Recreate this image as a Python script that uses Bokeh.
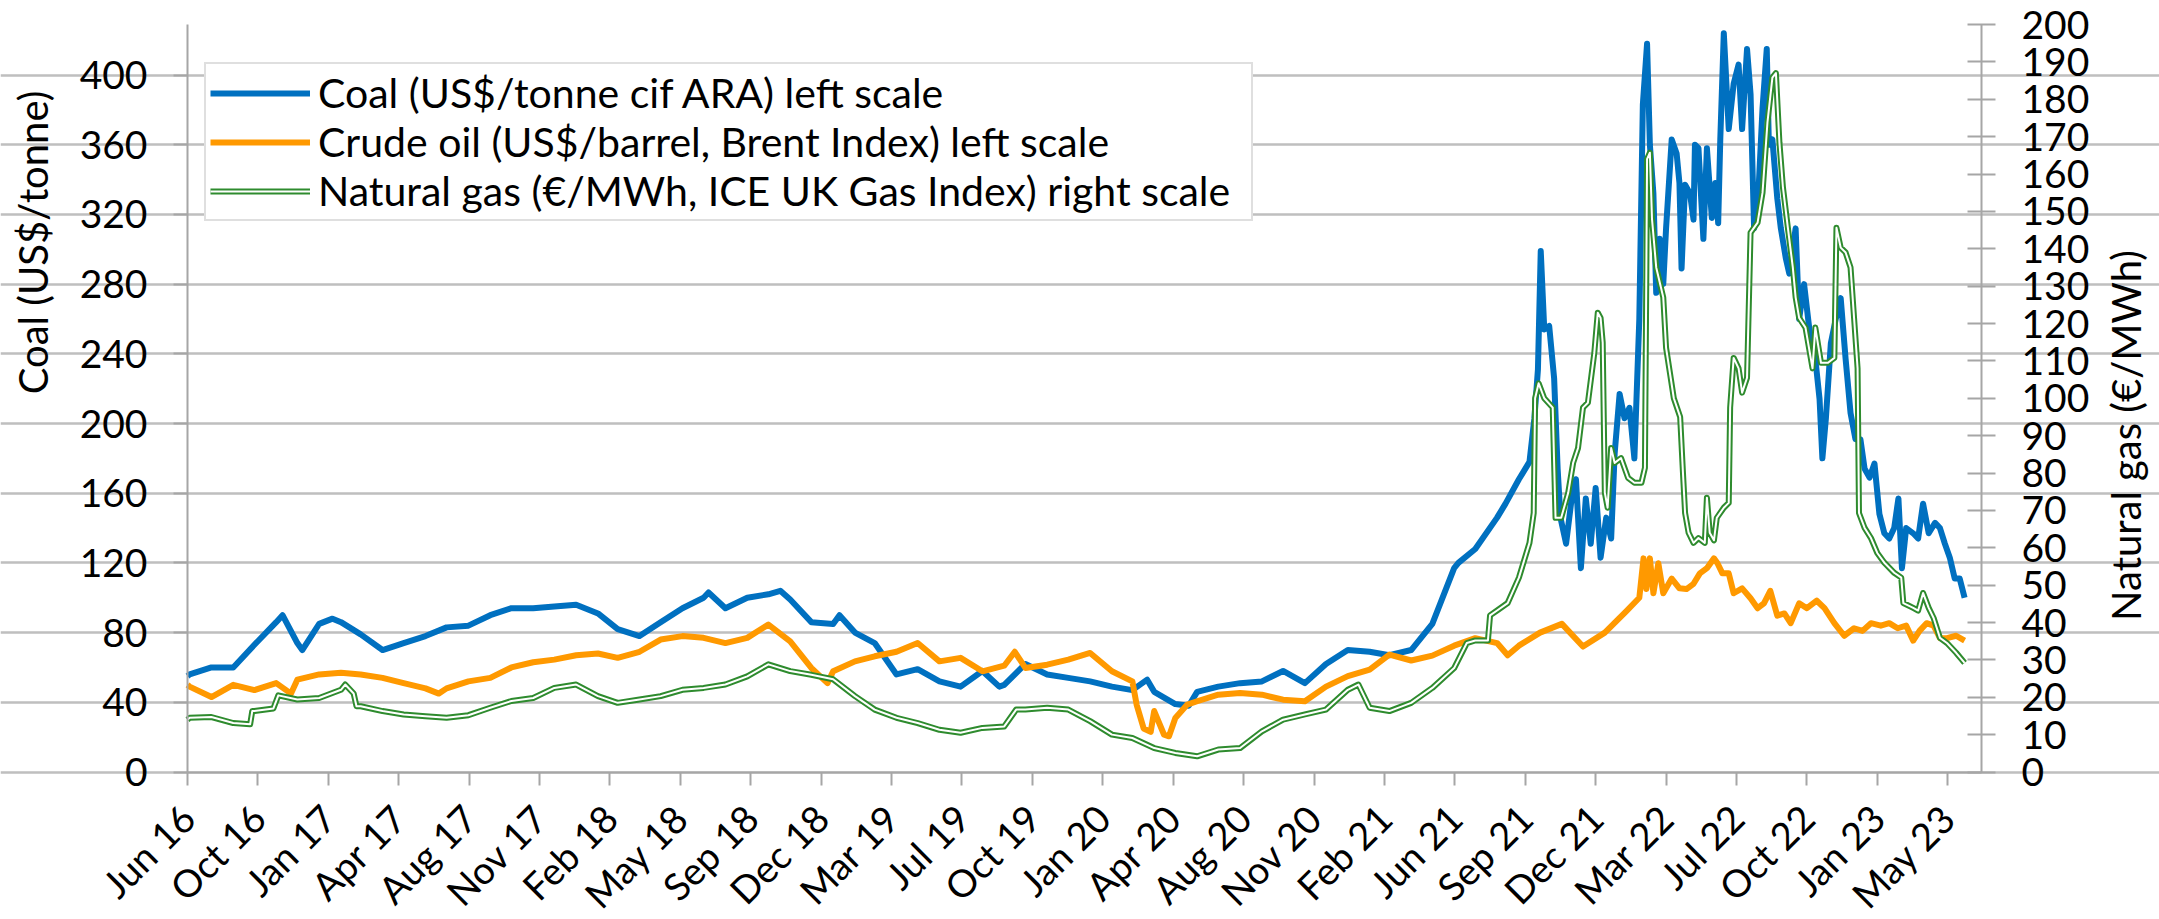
from math import pi
import pandas as pd
from bokeh.plotting import figure
from bokeh.models import (Range1d, LinearAxis, FixedTicker, Legend, LegendItem, Label)
from bokeh.embed import file_html
from bokeh.resources import INLINE

# ---------------- data ----------------
coal_dates = [
    "2016-06-28", "2016-07-01", "2016-08-01", "2016-09-01", "2016-10-01", "2016-11-01", "2016-11-10",
    "2016-12-01", "2016-12-08", "2017-01-01", "2017-01-20", "2017-02-01", "2017-03-01", "2017-04-01",
    "2017-05-01", "2017-06-01", "2017-07-01", "2017-08-01", "2017-09-01", "2017-10-01", "2017-11-01",
    "2017-12-01", "2018-01-01", "2018-02-01", "2018-03-01", "2018-04-01", "2018-05-01", "2018-06-01",
    "2018-07-01", "2018-07-08", "2018-08-01", "2018-09-01", "2018-10-01", "2018-10-18", "2018-11-01",
    "2018-12-01", "2019-01-01", "2019-01-10", "2019-02-01", "2019-03-01", "2019-04-01", "2019-05-01",
    "2019-06-01", "2019-07-01", "2019-08-01", "2019-08-25", "2019-09-01", "2019-10-01", "2019-11-01",
    "2019-12-01", "2020-01-01", "2020-02-01", "2020-03-01", "2020-03-22", "2020-04-01", "2020-05-01",
    "2020-05-20", "2020-06-01", "2020-07-01", "2020-08-01", "2020-09-01", "2020-10-01", "2020-11-01",
    "2020-12-01", "2021-01-01", "2021-02-01", "2021-03-01", "2021-04-01", "2021-05-01", "2021-06-01",
    "2021-06-07", "2021-07-01", "2021-08-01", "2021-08-13", "2021-09-01", "2021-09-16", "2021-09-23",
    "2021-09-28", "2021-10-02", "2021-10-07", "2021-10-14", "2021-10-21", "2021-10-26", "2021-10-30",
    "2021-11-07", "2021-11-14", "2021-11-21", "2021-11-28", "2021-12-05", "2021-12-12", "2021-12-19",
    "2021-12-26", "2022-01-03", "2022-01-10", "2022-01-15", "2022-01-22", "2022-01-29", "2022-02-05",
    "2022-02-12", "2022-02-19", "2022-02-24", "2022-03-02", "2022-03-06", "2022-03-11", "2022-03-15",
    "2022-03-20", "2022-03-25", "2022-03-29", "2022-04-06", "2022-04-13", "2022-04-17", "2022-04-20",
    "2022-04-25", "2022-05-02", "2022-05-07", "2022-05-09", "2022-05-14", "2022-05-21", "2022-05-26",
    "2022-06-02", "2022-06-07", "2022-06-11", "2022-06-14", "2022-06-19", "2022-06-26", "2022-07-03",
    "2022-07-10", "2022-07-15", "2022-07-22", "2022-07-27", "2022-08-01", "2022-08-06", "2022-08-13",
    "2022-08-19", "2022-08-22", "2022-08-27", "2022-09-03", "2022-09-08", "2022-09-15", "2022-09-20",
    "2022-09-29", "2022-10-04", "2022-10-11", "2022-10-20", "2022-10-27", "2022-11-02", "2022-11-06",
    "2022-11-11", "2022-11-18", "2022-11-25", "2022-12-02", "2022-12-09", "2022-12-16", "2022-12-23",
    "2022-12-30", "2023-01-05", "2023-01-12", "2023-01-19", "2023-01-26", "2023-02-02", "2023-02-09",
    "2023-02-16", "2023-02-22", "2023-02-27", "2023-03-05", "2023-03-15", "2023-03-22", "2023-03-29",
    "2023-04-06", "2023-04-15", "2023-04-22", "2023-04-29", "2023-05-06", "2023-05-13", "2023-05-20",
    "2023-05-27",
]
coal_values = [
    55, 56, 60, 60, 73, 86, 90,
    74, 70, 85, 88, 86, 79, 70,
    74, 78, 83, 84, 90, 94, 94,
    95, 96, 91, 82, 78, 86, 94,
    100, 103, 94, 100, 102, 104, 99,
    86, 85, 90, 80, 74, 56, 59,
    52, 49, 58, 49, 50, 62, 56,
    54, 52, 49, 47, 53, 46, 39,
    38, 46, 49, 51, 52, 58, 51,
    62, 70, 69, 67, 70, 85, 117,
    120, 128, 146, 154, 168, 178, 203,
    231, 299, 254, 256, 226, 174, 146,
    131, 154, 168, 117, 157, 131, 163,
    123, 146, 134, 183, 217, 203, 209,
    180, 260, 383, 418, 360, 332, 275,
    306, 280, 312, 363, 355, 338, 289,
    337, 332, 317, 360, 358, 306, 358,
    318, 338, 315, 363, 424, 369, 395,
    406, 369, 415, 389, 312, 323, 381,
    415, 360, 363, 329, 312, 295, 286,
    312, 260, 280, 249, 237, 214, 180,
    203, 246, 260, 272, 237, 206, 191,
    191, 174, 169, 177, 148, 137, 134,
    140, 157, 117, 140, 137, 134, 154,
    137, 143, 140, 131, 123, 111, 111,
    100,
]

oil_dates = [
    "2016-06-28", "2016-07-01", "2016-08-01", "2016-09-01", "2016-10-01", "2016-11-01", "2016-11-22",
    "2016-12-01", "2017-01-01", "2017-02-01", "2017-03-01", "2017-04-01", "2017-05-01", "2017-06-01",
    "2017-06-20", "2017-07-01", "2017-08-01", "2017-09-01", "2017-10-01", "2017-11-01", "2017-12-01",
    "2018-01-01", "2018-02-01", "2018-03-01", "2018-04-01", "2018-05-01", "2018-06-01", "2018-07-01",
    "2018-08-01", "2018-09-01", "2018-10-01", "2018-11-01", "2018-12-01", "2018-12-24", "2019-01-01",
    "2019-02-01", "2019-03-01", "2019-04-01", "2019-05-01", "2019-06-01", "2019-07-01", "2019-08-01",
    "2019-09-01", "2019-09-16", "2019-10-01", "2019-11-01", "2019-12-01", "2020-01-01", "2020-02-01",
    "2020-03-01", "2020-03-07", "2020-03-17", "2020-03-27", "2020-04-01", "2020-04-05", "2020-04-15",
    "2020-04-22", "2020-05-01", "2020-05-18", "2020-06-01", "2020-07-01", "2020-08-01", "2020-09-01",
    "2020-10-01", "2020-11-01", "2020-12-01", "2021-01-01", "2021-02-01", "2021-03-01", "2021-04-01",
    "2021-05-01", "2021-06-01", "2021-07-01", "2021-08-01", "2021-08-16", "2021-09-01", "2021-10-01",
    "2021-11-01", "2021-12-01", "2022-01-01", "2022-02-01", "2022-02-19", "2022-02-25", "2022-03-01",
    "2022-03-06", "2022-03-11", "2022-03-18", "2022-03-25", "2022-04-06", "2022-04-17", "2022-04-27",
    "2022-05-07", "2022-05-16", "2022-05-26", "2022-06-05", "2022-06-10", "2022-06-17", "2022-06-26",
    "2022-07-03", "2022-07-15", "2022-07-27", "2022-08-06", "2022-08-15", "2022-08-24", "2022-09-03",
    "2022-09-13", "2022-09-22", "2022-10-04", "2022-10-15", "2022-10-29", "2022-11-09", "2022-11-23",
    "2022-12-07", "2022-12-21", "2023-01-02", "2023-01-14", "2023-01-28", "2023-02-09", "2023-02-21",
    "2023-03-05", "2023-03-15", "2023-03-24", "2023-04-03", "2023-04-13", "2023-04-22", "2023-05-02",
    "2023-05-15", "2023-05-27",
]
oil_values = [
    50, 49, 43, 50, 47, 51, 45,
    53, 56, 57, 56, 54, 51, 48,
    45, 48, 52, 54, 60, 63, 64.5,
    67, 68, 65.5, 69, 76, 78, 77,
    74, 77, 84.6, 75, 59.7, 51, 57.8,
    63.5, 66.4, 69, 74, 63.5, 65.5, 57.8,
    61, 69, 59.7, 61.6, 64.5, 68.3, 57.8,
    52, 38.7, 25, 23, 35, 31, 21.4,
    20.5, 31, 38.7, 40.6, 44.4, 45.4, 44.4,
    41.5, 40.6, 49, 55, 58.8, 67.4, 64,
    66.8, 72.5, 76.8, 74, 67, 72.5, 80,
    85, 72, 80, 92.5, 100, 122.6, 105,
    122.6, 102.6, 119.8, 102.6, 111, 105.4, 105,
    108, 114, 117, 122.6, 119.8, 114, 114,
    102.6, 105.4, 99.7, 94, 96.8, 104, 89.7,
    91, 85.4, 96.8, 94, 98.3, 94, 85.4,
    78.2, 82.5, 81, 85.4, 84, 85.4, 82.5,
    84, 75.4, 81, 85.4, 84, 76.8, 76.8,
    78.2, 75.4,
]

gas_dates = [
    "2016-06-28", "2016-07-01", "2016-08-01", "2016-09-01", "2016-09-25", "2016-09-28", "2016-10-01",
    "2016-10-28", "2016-11-04", "2016-12-01", "2017-01-01", "2017-02-01", "2017-02-07", "2017-02-19",
    "2017-02-23", "2017-03-01", "2017-04-01", "2017-05-01", "2017-06-01", "2017-07-01", "2017-08-01",
    "2017-09-01", "2017-10-01", "2017-11-01", "2017-12-01", "2018-01-01", "2018-02-01", "2018-03-01",
    "2018-04-01", "2018-05-01", "2018-06-01", "2018-07-01", "2018-08-01", "2018-09-01", "2018-10-01",
    "2018-11-01", "2018-12-01", "2019-01-01", "2019-02-01", "2019-03-01", "2019-04-01", "2019-05-01",
    "2019-06-01", "2019-07-01", "2019-08-01", "2019-09-01", "2019-09-18", "2019-10-01", "2019-11-01",
    "2019-12-01", "2020-01-01", "2020-02-01", "2020-03-01", "2020-04-01", "2020-05-01", "2020-06-01",
    "2020-07-01", "2020-08-01", "2020-09-01", "2020-10-01", "2020-11-01", "2020-12-01", "2021-01-01",
    "2021-01-16", "2021-02-01", "2021-03-01", "2021-04-01", "2021-05-01", "2021-06-01", "2021-06-19",
    "2021-07-01", "2021-07-19", "2021-07-22", "2021-08-01", "2021-08-16", "2021-09-01", "2021-09-16",
    "2021-09-22", "2021-09-24", "2021-09-29", "2021-10-07", "2021-10-19", "2021-10-23", "2021-10-31",
    "2021-11-10", "2021-11-17", "2021-11-24", "2021-12-01", "2021-12-08", "2021-12-17", "2021-12-22",
    "2021-12-26", "2021-12-29", "2022-01-01", "2022-01-05", "2022-01-10", "2022-01-15", "2022-01-24",
    "2022-02-03", "2022-02-12", "2022-02-22", "2022-02-27", "2022-03-01", "2022-03-02", "2022-03-06",
    "2022-03-09", "2022-03-15", "2022-03-25", "2022-03-29", "2022-04-09", "2022-04-18", "2022-04-22",
    "2022-04-25", "2022-04-30", "2022-05-07", "2022-05-14", "2022-05-23", "2022-05-26", "2022-05-30",
    "2022-06-05", "2022-06-09", "2022-06-19", "2022-06-26", "2022-06-28", "2022-07-03", "2022-07-10",
    "2022-07-15", "2022-07-22", "2022-07-27", "2022-08-06", "2022-08-13", "2022-08-20", "2022-08-27",
    "2022-09-01", "2022-09-06", "2022-09-11", "2022-09-18", "2022-09-25", "2022-09-29", "2022-10-04",
    "2022-10-13", "2022-10-23", "2022-10-27", "2022-11-04", "2022-11-14", "2022-11-23", "2022-11-26",
    "2022-12-02", "2022-12-09", "2022-12-16", "2022-12-21", "2022-12-26", "2022-12-28", "2023-01-05",
    "2023-01-14", "2023-01-23", "2023-02-02", "2023-02-16", "2023-02-26", "2023-03-01", "2023-03-15",
    "2023-03-22", "2023-03-29", "2023-04-06", "2023-04-13", "2023-04-22", "2023-05-02", "2023-05-15",
    "2023-05-27",
]
gas_values = [
    14, 14.5, 14.7, 13.1, 12.8, 16.3, 16.3,
    17, 20.5, 19.4, 19.8, 22, 23.4, 21,
    17.6, 17.6, 16.3, 15.4, 14.9, 14.5, 15.2,
    17.2, 19, 19.8, 22.5, 23.4, 20.3, 18.5,
    19.4, 20.3, 22, 22.5, 23.4, 25.6, 28.8,
    27, 26, 24.8, 20.3, 16.7, 14.5, 13.1,
    11.3, 10.5, 11.8, 12.2, 16.7, 16.7, 17.2,
    16.7, 13.6, 10, 9.1, 6.4, 5.1, 4.2,
    6, 6.4, 10.9, 14, 15.4, 16.7, 22,
    23.4, 17.2, 16.3, 18.5, 22.5, 27.8, 34.5,
    35.2, 35.2, 41.9, 43.2, 45.2, 52, 61.3,
    69.3, 100, 104, 100, 97.5, 68, 68,
    74.7, 82.7, 86.7, 97.5, 98.8, 112, 122.9,
    121.5, 114.9, 74.7, 70.7, 86.7, 82.7, 84,
    78.7, 77.4, 77.4, 81.4, 135, 164, 165.7,
    148, 135, 127, 113.5, 100, 95, 80,
    69.3, 64, 61.3, 62.6, 61.3, 73.4, 64,
    62, 68, 70.7, 72, 97.5, 110.8, 108,
    101.5, 105.5, 144.3, 147, 155, 173.8, 185.8,
    187, 168.4, 156.4, 145.6, 135, 127, 121.5,
    118.9, 108, 118.9, 109.5, 109.5, 110.8, 145.6,
    140.3, 139, 135, 121.5, 108, 69.3, 65.3,
    62.6, 58.6, 56, 53.3, 52, 45.2, 43.9,
    43.2, 47.9, 43.9, 41.2, 35.9, 34.5, 31.9,
    29.2,
]

tick_dates = [
    "2016-06-28", "2016-10-06", "2017-01-14", "2017-04-24", "2017-08-02", "2017-11-10", "2018-02-18",
    "2018-05-29", "2018-09-06", "2018-12-15", "2019-03-25", "2019-07-03", "2019-10-11", "2020-01-19",
    "2020-04-28", "2020-08-06", "2020-11-14", "2021-02-22", "2021-06-02", "2021-09-10", "2021-12-19",
    "2022-03-29", "2022-07-07", "2022-10-15", "2023-01-23", "2023-05-03",
]
tick_labels = [
    "Jun 16", "Oct 16", "Jan 17", "Apr 17", "Aug 17", "Nov 17", "Feb 18", "May 18", "Sep 18",
    "Dec 18", "Mar 19", "Jul 19", "Oct 19", "Jan 20", "Apr 20", "Aug 20", "Nov 20", "Feb 21",
    "Jun 21", "Sep 21", "Dec 21", "Mar 22", "Jul 22", "Oct 22", "Jan 23", "May 23",
]
left_ticks = [0, 40, 80, 120, 160, 200, 240, 280, 320, 360, 400]
right_ticks = [0, 10, 20, 30, 40, 50, 60, 70, 80, 90, 100, 110, 120, 130, 140, 150, 160, 170,
               180, 190, 200]

series_labels = [
    "Coal (US$/tonne cif ARA) left scale",
    "Crude oil (US$/barrel, Brent Index) left scale",
    "Natural gas (€/MWh, ICE UK Gas Index) right scale",
]
left_title = "Coal (US$/tonne)"
right_title = "Natural gas (€/MWh)"

# ---------------- layout (pixels) ----------------
# The whole canvas is the plotting frame; the axes are pinned inside it so
# that nothing (rotated date labels, titles) gets clipped.
W, H = 2159, 919
AX_LEFT, AX_RIGHT = 187, 1981      # pixel columns of the two value axes
AX_TOP, ZERO_Y = 24, 771.5         # pixel rows of the top of the axes and of the value 0
X_START, X_END = pd.Timestamp("2016-06-28"), pd.Timestamp("2023-06-20")
LEFT_MAX, RIGHT_MAX = 429, 200

x0_ms, x1_ms = X_START.timestamp() * 1000, X_END.timestamp() * 1000
ms_per_px = (x1_ms - x0_ms) / (AX_RIGHT - AX_LEFT)
left_per_px = LEFT_MAX / (ZERO_Y - AX_TOP)
right_per_px = RIGHT_MAX / (ZERO_Y - AX_TOP)

x_range = Range1d(x0_ms - AX_LEFT * ms_per_px, x1_ms + (W - AX_RIGHT) * ms_per_px)
y_range = Range1d(-(H - ZERO_Y) * left_per_px, LEFT_MAX + AX_TOP * left_per_px)
gas_range = Range1d(-(H - ZERO_Y) * right_per_px, RIGHT_MAX + AX_TOP * right_per_px)

# ---------------- styling ----------------
FONT = "Lato"
COAL_C = "#0070C0"
OIL_C = "#FF9900"
GAS_C = "#2E8B2E"
GRID_C = "#BFBFBF"
AXIS_C = "#A6A6A6"

p = figure(
    width=W, height=H, x_axis_type="datetime", title=None,
    output_backend="svg", toolbar_location=None,
    x_range=x_range, y_range=y_range,
    min_border_left=0, min_border_right=0, min_border_top=0, min_border_bottom=0,
)
p.outline_line_color = None
p.background_fill_color = "white"
p.border_fill_color = "white"
p.extra_y_ranges = {"gas": gas_range}

cx = pd.to_datetime(coal_dates)
ox = pd.to_datetime(oil_dates)
gx = pd.to_datetime(gas_dates)

coal_r = p.line(cx, coal_values, color=COAL_C, line_width=6, line_join="round")
oil_r = p.line(ox, oil_values, color=OIL_C, line_width=6, line_join="round")
gas_outer = p.line(gx, gas_values, color=GAS_C, line_width=6, line_join="round", y_range_name="gas")
gas_inner = p.line(gx, gas_values, color="white", line_width=2, line_join="round", y_range_name="gas")

# x axis, pinned at value 0
tick_ms = [int(t.timestamp() * 1000) for t in pd.to_datetime(tick_dates)]
xa = p.xaxis[0]
xa.fixed_location = 0
xa.bounds = (x0_ms, x1_ms)
xa.ticker = FixedTicker(ticks=tick_ms)
xa.major_label_overrides = {ms: lab for ms, lab in zip(tick_ms, tick_labels)}
xa.major_label_orientation = pi / 4
xa.major_label_text_font = FONT
xa.major_label_text_font_size = "38px"
xa.major_label_text_color = "black"
xa.major_label_standoff = 26
xa.axis_line_color = AXIS_C
xa.axis_line_width = 2
xa.major_tick_line_color = AXIS_C
xa.major_tick_line_width = 2
xa.major_tick_in = 0
xa.major_tick_out = 13
xa.minor_tick_line_color = None

# left axis, pinned at the first date
ya = p.yaxis[0]
ya.fixed_location = x0_ms
ya.bounds = (0, LEFT_MAX)
ya.ticker = FixedTicker(ticks=left_ticks)
ya.major_label_text_font = FONT
ya.major_label_text_font_size = "39px"
ya.major_label_text_color = "black"
ya.major_label_standoff = 26
ya.axis_line_color = AXIS_C
ya.axis_line_width = 2
ya.major_tick_line_color = AXIS_C
ya.major_tick_line_width = 2
ya.major_tick_in = 0
ya.major_tick_out = 14
ya.minor_tick_line_color = None

# right axis, pinned at the last date
ra = LinearAxis(y_range_name="gas", ticker=FixedTicker(ticks=right_ticks), bounds=(0, RIGHT_MAX),
                fixed_location=x1_ms)
ra.major_label_text_font = FONT
ra.major_label_text_font_size = "39px"
ra.major_label_text_color = "black"
ra.major_label_standoff = 26
ra.axis_line_color = AXIS_C
ra.axis_line_width = 2
ra.major_tick_line_color = AXIS_C
ra.major_tick_line_width = 2
ra.major_tick_in = 14
ra.major_tick_out = 14
ra.minor_tick_line_color = None
p.add_layout(ra, "right")

p.xgrid.visible = False
p.ygrid.grid_line_color = GRID_C
p.ygrid.grid_line_width = 2.5
p.ygrid.bounds = (x0_ms, x1_ms)

# axis titles (screen units inside the frame, which is the whole canvas)
p.add_layout(Label(x=32, y=H - 242, x_units="screen", y_units="screen", text=left_title,
                   angle=pi / 2, text_align="center", text_baseline="middle",
                   text_font=FONT, text_font_size="40px", text_color="black"))
p.add_layout(Label(x=2125, y=H - 435, x_units="screen", y_units="screen", text=right_title,
                   angle=pi / 2, text_align="center", text_baseline="middle",
                   text_font=FONT, text_font_size="40px", text_color="black"))

legend = Legend(items=[
    LegendItem(label=series_labels[0], renderers=[coal_r]),
    LegendItem(label=series_labels[1], renderers=[oil_r]),
    LegendItem(label=series_labels[2], renderers=[gas_outer, gas_inner]),
], location=(204, H - 221))
legend.padding = 4
legend.spacing = 0
legend.margin = 0
legend.glyph_width = 100
legend.glyph_height = 40
legend.label_height = 40
legend.label_width = 929
legend.label_standoff = 8
legend.label_text_font = FONT
legend.label_text_font_size = "41px"
legend.label_text_color = "black"
legend.border_line_color = GRID_C
legend.border_line_width = 2
legend.background_fill_color = "white"
legend.background_fill_alpha = 1
p.add_layout(legend)

open("out.html", "w").write(file_html(p, INLINE))
